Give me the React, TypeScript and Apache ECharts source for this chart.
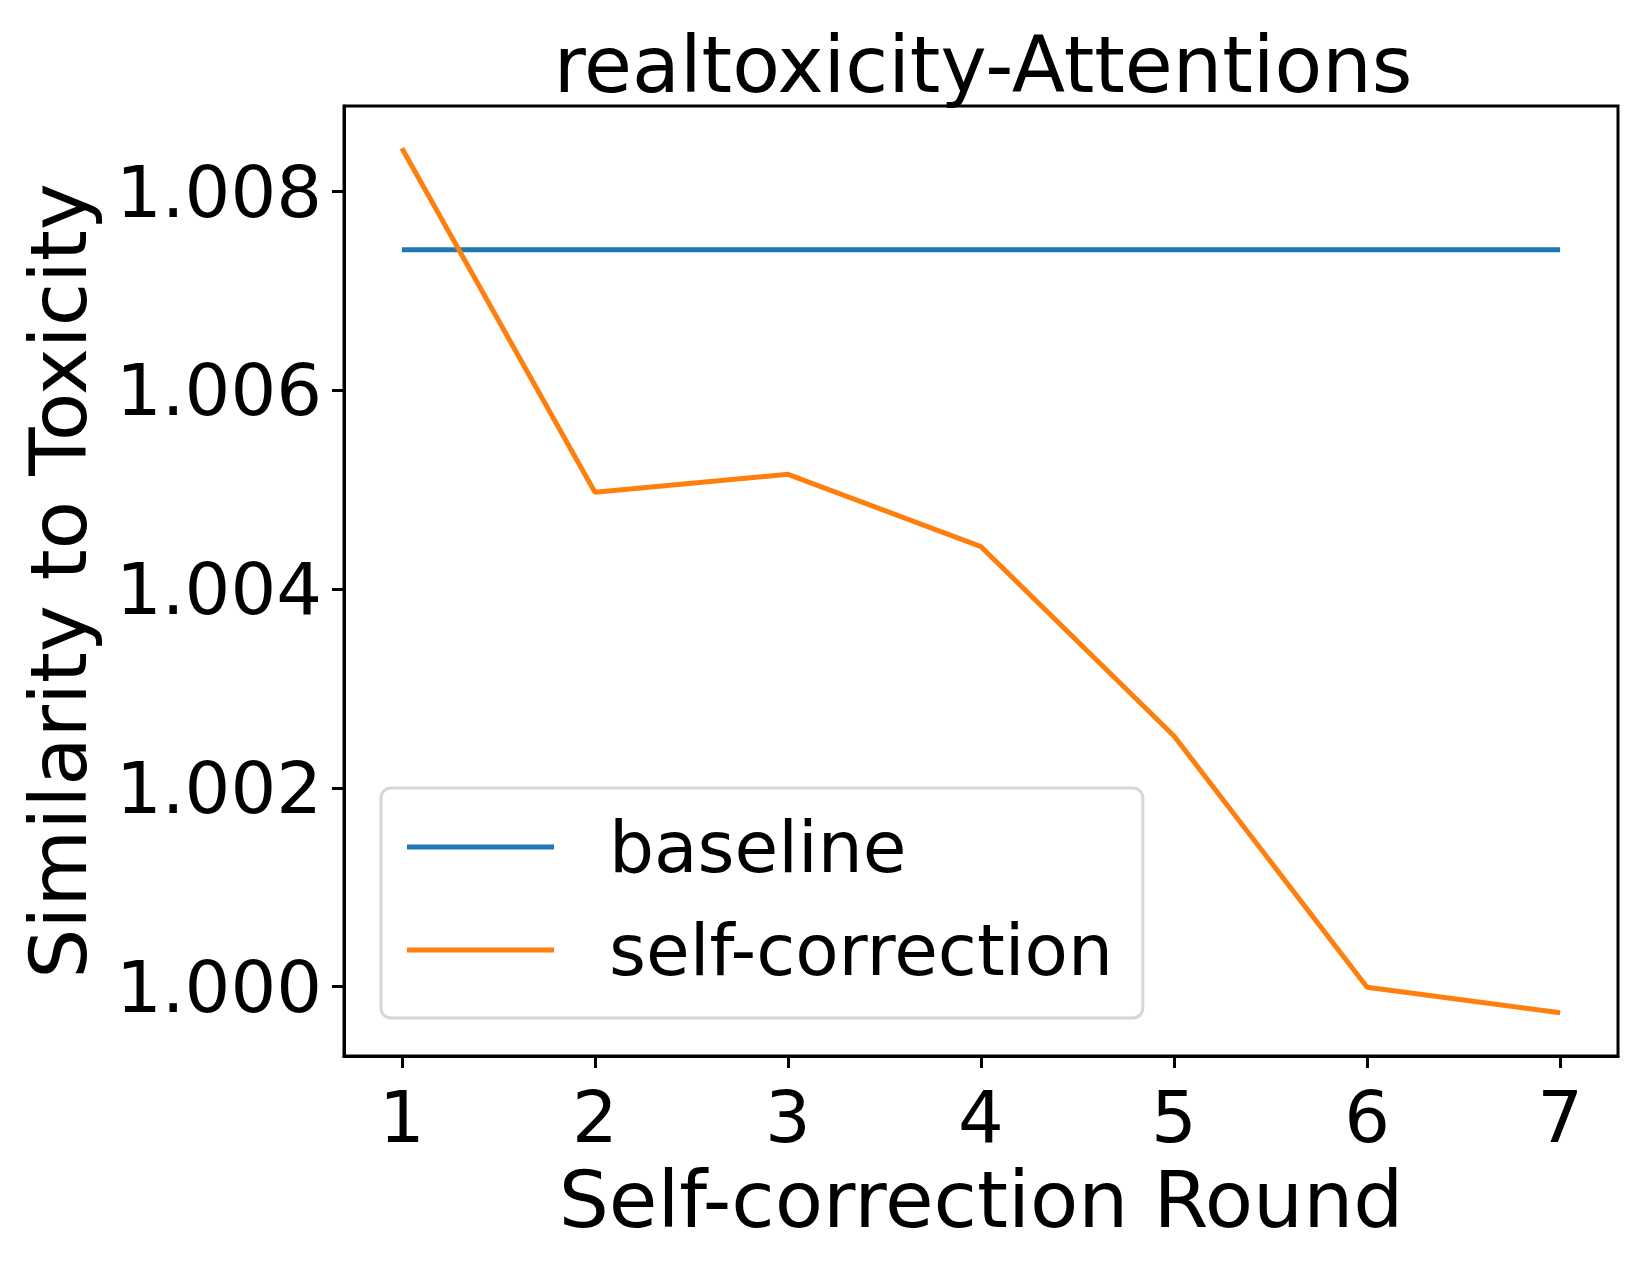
import React, { useEffect, useRef } from "react";
import * as echarts from "echarts";

const rounds = [1, 2, 3, 4, 5, 6, 7];
const baselineValues = [1.007416, 1.007416, 1.007416, 1.007416, 1.007416, 1.007416, 1.007416];
const selfCorrectionValues = [1.008437, 1.004975, 1.005156, 1.004428, 1.002523, 0.999995, 0.999738];
const yTicks = [1.0, 1.002, 1.004, 1.006, 1.008];
const xTicks = [1, 2, 3, 4, 5, 6, 7];
const seriesNames = ["baseline", "self-correction"];
const titleText = "realtoxicity-Attentions";
const xName = "Self-correction Round";
const yName = "Similarity to Toxicity";

const FONT = "DejaVu Sans";

export default function App() {
  const ref = useRef<HTMLDivElement>(null);
  useEffect(() => {
    if (!ref.current) return;
    const chart = echarts.init(ref.current, undefined, { renderer: "svg" });
    const gridLeft = 344;
    const gridTop = 106;
    const gridW = 1274;
    const gridH = 950;
    chart.setOption({
      animation: false,
      backgroundColor: "#ffffff",
      title: {
        text: titleText,
        left: gridLeft + gridW / 2 - 3,
        top: 21,
        textAlign: "center",
        textStyle: { fontFamily: FONT, fontSize: 78, fontWeight: "normal", color: "#000" },
      },
      grid: {
        left: gridLeft,
        top: gridTop,
        width: gridW,
        height: gridH,
        show: true,
        borderColor: "#000",
        borderWidth: 3,
        backgroundColor: "transparent",
      },
      legend: {
        orient: "vertical",
        left: 381,
        top: 788,
        padding: [19, 30, 28, 26],
        itemWidth: 147,
        itemHeight: 5,
        itemGap: 23,
        icon: "rect",
        backgroundColor: "#ffffff",
        borderColor: "#d6d6d6",
        borderWidth: 3,
        borderRadius: 10,
        textStyle: {
          fontFamily: FONT,
          fontSize: 71,
          lineHeight: 80,
          color: "#000",
          padding: [0, 0, 0, 50],
        },
        data: seriesNames,
      },
      xAxis: {
        type: "value",
        min: 0.7,
        max: 7.3,
        name: xName,
        nameLocation: "middle",
        nameGap: 104,
        nameTextStyle: { fontFamily: FONT, fontSize: 79, color: "#000" },
        axisLine: { show: true, onZero: false, lineStyle: { color: "#000", width: 3 } },
        axisTick: { show: true, length: 12, lineStyle: { color: "#000", width: 3 }, customValues: xTicks },
        axisLabel: {
          fontFamily: FONT,
          fontSize: 72,
          color: "#000",
          margin: 25,
          customValues: xTicks,
          formatter: (v: number) => String(Math.round(v)),
        },
        splitLine: { show: false },
      },
      yAxis: {
        type: "value",
        min: 0.999303,
        max: 1.008862,
        name: yName,
        nameLocation: "middle",
        nameGap: 246,
        nameRotate: 90,
        nameTextStyle: { fontFamily: FONT, fontSize: 79, color: "#000" },
        axisLine: { show: true, onZero: false, lineStyle: { color: "#000", width: 3 } },
        axisTick: { show: true, length: 12, lineStyle: { color: "#000", width: 3 }, customValues: yTicks },
        axisLabel: {
          fontFamily: FONT,
          fontSize: 72,
          color: "#000",
          margin: 22,
          customValues: yTicks,
          formatter: (v: number) => v.toFixed(3),
        },
        splitLine: { show: false },
      },
      series: [
        {
          name: seriesNames[0],
          type: "line",
          data: rounds.map((r, i) => [r, baselineValues[i]]),
          showSymbol: false,
          lineStyle: { color: "#1f77b4", width: 5 },
          itemStyle: { color: "#1f77b4" },
        },
        {
          name: seriesNames[1],
          type: "line",
          data: rounds.map((r, i) => [r, selfCorrectionValues[i]]),
          showSymbol: false,
          lineStyle: { color: "#ff7f0e", width: 5 },
          itemStyle: { color: "#ff7f0e" },
        },
      ],
    });
    return () => chart.dispose();
  }, []);
  return (
    <div
      ref={ref}
      style={{ position: "absolute", left: 0, top: 0, width: 1644, height: 1266 }}
    />
  );
}
